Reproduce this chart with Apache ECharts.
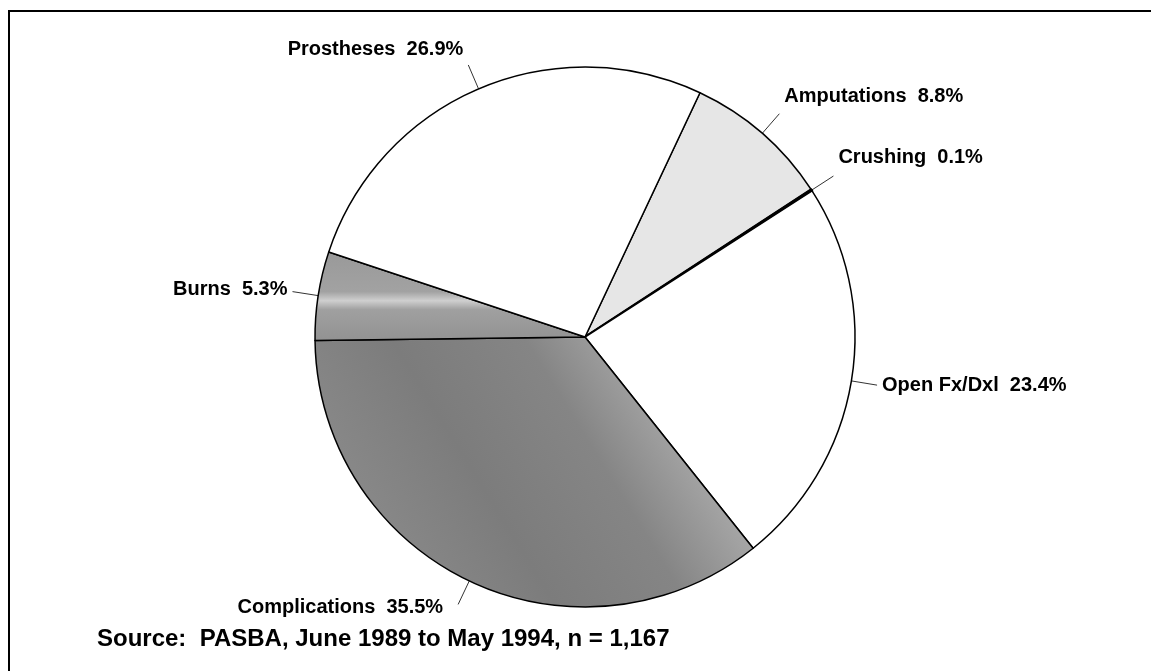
<!DOCTYPE html>
<html>
<head>
    <meta charset="utf-8"/>
    <title></title>
    <script src="https://cdn.jsdelivr.net/npm/echarts@6/dist/echarts.min.js"></script>
    <style>
        html, body {margin: 0; padding: 0; background: #fff;}
    </style>
</head>
<body>
<div id="main" style="width:1151px;height:671px;"></div>
<script type="text/javascript">
    /* data, clockwise from the Prostheses/Amputations cut */
    var categories = ['Amputations', 'Crushing', 'Open Fx/Dxl', 'Complications', 'Burns', 'Prostheses'];
    var percents = [8.8, 0.1, 23.4, 35.5, 5.3, 26.9];
    var sourceText = 'Source:  PASBA, June 1989 to May 1994, n = 1,167';

    /* fills */
    var fills = {
        'Amputations': '#e6e6e6',
        'Crushing': '#000',
        'Open Fx/Dxl': '#fff',
        'Complications': {
            type: 'linear', x: 0, y: 1, x2: 1, y2: 0,
            colorStops: [
                {offset: 0, color: '#939393'},
                {offset: 0.4, color: '#7c7c7c'},
                {offset: 0.62, color: '#858585'},
                {offset: 0.8, color: '#a9a9a9'},
                {offset: 1, color: '#c9c9c9'}
            ]
        },
        'Burns': {
            type: 'linear', x: 0, y: 0, x2: 0, y2: 1,
            colorStops: [
                {offset: 0, color: '#999'},
                {offset: 0.45, color: '#a2a2a2'},
                {offset: 0.55, color: '#cfcfcf'},
                {offset: 0.65, color: '#a0a0a0'},
                {offset: 1, color: '#929292'}
            ]
        },
        'Prostheses': '#fff'
    };
    /* blank space under some labels so the text sits above the leader end */
    var labelLift = {
        'Prostheses': 30,
        'Amputations': 34,
        'Crushing': 38,
        'Open Fx/Dxl': 0,
        'Burns': 4,
        'Complications': 0
    };

    var chart = echarts.init(document.getElementById('main'));

    var pieData = [];
    for (var i = 0; i < categories.length; i++) {
        var nm = categories[i];
        var lbl = {rich: {sp: {height: labelLift[nm], fontSize: 1}}};
        if (nm === 'Complications') {
            lbl.padding = [6, 10, 0, 0];
        }
        pieData.push({
            name: nm,
            value: percents[i],
            itemStyle: nm === 'Crushing'
                ? {color: fills[nm], borderWidth: 2.5}
                : {color: fills[nm]},
            label: lbl
        });
    }

    var option = {
        animation: false,
        backgroundColor: '#fff',
        graphic: [
            {
                type: 'rect',
                shape: {x: 9, y: 11, width: 1300, height: 800},
                style: {fill: 'none', stroke: '#000', lineWidth: 2}
            },
            {
                type: 'text',
                left: 97,
                top: 627,
                style: {
                    text: sourceText,
                    fill: '#000',
                    font: 'bold 24px "Liberation Sans", Arial, sans-serif'
                }
            }
        ],
        series: [
            {
                type: 'pie',
                center: [585, 337],
                radius: 270,
                startAngle: 64.8,
                clockwise: true,
                minAngle: 0,
                avoidLabelOverlap: false,
                itemStyle: {borderColor: '#000', borderWidth: 1.5},
                emphasis: {disabled: true},
                label: {
                    show: true,
                    position: 'outside',
                    color: '#000',
                    fontFamily: '"Liberation Sans", Arial, sans-serif',
                    fontWeight: 'bold',
                    fontSize: 20,
                    formatter: function (p) {
                        var txt = p.name + '  ' + p.value.toFixed(1) + '%';
                        if (labelLift[p.name]) {
                            txt += '\n{sp| }';
                        }
                        return txt;
                    }
                },
                labelLine: {
                    show: true,
                    length: 26,
                    length2: 0,
                    smooth: false,
                    lineStyle: {color: '#333', width: 1}
                },
                data: pieData
            }
        ]
    };

    chart.setOption(option);
    window.onresize = chart.resize;
</script>
</body>
</html>
